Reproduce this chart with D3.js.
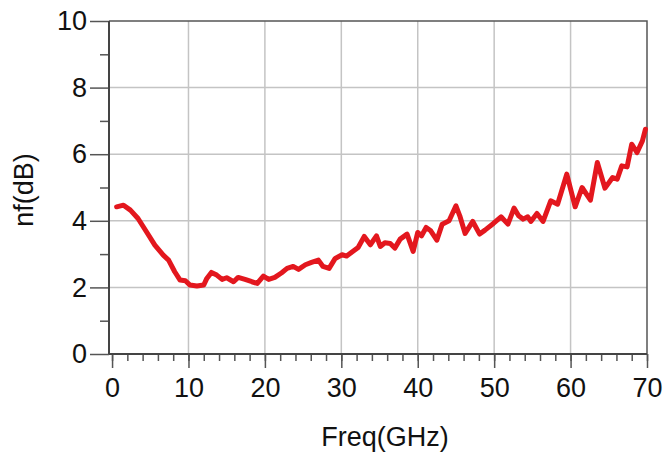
<!DOCTYPE html>
<html>
<head>
<meta charset="utf-8">
<script src="https://cdn.jsdelivr.net/npm/d3@7"></script>
<style>
  html, body { margin: 0; padding: 0; background: #fff; }
  svg { display: block; font-family: "Liberation Sans", Arial, sans-serif; }
</style>
</head>
<body>
<div id="chart"></div>
<script>
// noise figure vs frequency
const freq = [0.6, 1.5, 2.4, 3.4, 4.5, 5.6, 6.7, 7.4, 8.2, 8.9, 9.6, 10.2, 11.1, 12.0, 12.4, 13.0,
  13.7, 14.4, 15.0, 15.9, 16.5, 17.4, 18.3, 19.0, 19.8, 20.5, 21.3, 22.2, 22.9, 23.7, 24.4,
  25.3, 26.1, 27.0, 27.6, 28.4, 29.2, 30.1, 30.7, 31.4, 32.2, 33.0, 33.8, 34.6, 35.1, 35.7,
  36.4, 37.0, 37.7, 38.6, 39.4, 40.0, 40.5, 41.1, 41.7, 42.5, 43.2, 44.1, 45.0, 45.5, 46.2,
  47.2, 48.1, 48.8, 49.9, 50.9, 51.8, 52.6, 53.2, 53.8, 54.4, 54.8, 55.6, 56.4, 57.4, 58.3,
  59.5, 60.6, 61.5, 62.6, 63.5, 64.5, 65.5, 66.1, 66.7, 67.4, 68.0, 68.7, 69.4, 69.8];
const nf = [4.42, 4.47, 4.32, 4.07, 3.67, 3.27, 2.97, 2.82, 2.47, 2.22, 2.2, 2.07, 2.04, 2.07, 2.27, 2.45,
  2.37, 2.24, 2.29, 2.17, 2.3, 2.24, 2.17, 2.12, 2.34, 2.24, 2.3, 2.44, 2.57, 2.63, 2.54,
  2.68, 2.75, 2.82, 2.63, 2.57, 2.87, 2.98, 2.94, 3.06, 3.2, 3.53, 3.28, 3.55, 3.23, 3.34,
  3.32, 3.18, 3.45, 3.6, 3.08, 3.65, 3.55, 3.8, 3.7, 3.42, 3.9, 4.0, 4.45, 4.15, 3.62,
  3.98, 3.6, 3.72, 3.92, 4.12, 3.9, 4.38, 4.15, 4.05, 4.12, 3.98, 4.22, 3.98, 4.6, 4.5,
  5.4, 4.42, 5.0, 4.62, 5.75, 4.98, 5.3, 5.25, 5.65, 5.62, 6.3, 6.05, 6.4, 6.75];

const xTicks = [0, 10, 20, 30, 40, 50, 60, 70];
const yTicks = [0, 2, 4, 6, 8, 10];
const xMinor = d3.range(0, 71, 2);
const yMinor = [1, 3, 5, 7, 9];

const width = 671, height = 452;

const x = d3.scaleLinear().domain([-0.4, 70]).range([109, 647]);
const y = d3.scaleLinear().domain([0, 10]).range([354, 21]);

const svg = d3.select("#chart").append("svg")
  .attr("width", width)
  .attr("height", height);

// grid
svg.append("g")
  .selectAll("line")
  .data(yTicks.filter(d => d > 0 && d < 10))
  .join("line")
  .attr("x1", x.range()[0]).attr("x2", x(70))
  .attr("y1", d => y(d)).attr("y2", d => y(d))
  .attr("stroke", "#c4c4c4").attr("stroke-width", 1.5);

svg.append("g")
  .selectAll("line")
  .data(xTicks.filter(d => d > 0 && d < 70))
  .join("line")
  .attr("x1", d => x(d)).attr("x2", d => x(d))
  .attr("y1", y(0)).attr("y2", y(10))
  .attr("stroke", "#c4c4c4").attr("stroke-width", 1.5);

// frame (top and right)
svg.append("path")
  .attr("d", `M${x.range()[0]},${y(10)}H${x(70)}V${y(0)}`)
  .attr("fill", "none")
  .attr("stroke", "#555")
  .attr("stroke-width", 1.5);

// x axis
const xAxis = svg.append("g").attr("transform", `translate(0,${y(0)})`);
xAxis.call(d3.axisBottom(x).tickValues(xMinor).tickSize(7).tickFormat(""))
  .call(g => g.select(".domain").remove())
  .call(g => g.selectAll("line").attr("stroke", "#555").attr("stroke-width", 1.5));
xAxis.append("g")
  .call(d3.axisBottom(x).tickValues(xTicks).tickSize(14).tickPadding(10).tickFormat(d3.format("d")))
  .call(g => g.select(".domain").remove())
  .call(g => g.selectAll("line").attr("stroke", "#555").attr("stroke-width", 1.5))
  .call(g => g.selectAll("text").attr("font-size", 27).attr("fill", "#111")
    .attr("font-family", "Liberation Sans, Arial, sans-serif"));
xAxis.append("line")
  .attr("x1", x.range()[0]).attr("x2", x(70))
  .attr("stroke", "#444").attr("stroke-width", 2);

// y axis
const yAxis = svg.append("g").attr("transform", `translate(${x.range()[0]},0)`);
yAxis.call(d3.axisLeft(y).tickValues(yMinor).tickSize(9).tickFormat(""))
  .call(g => g.select(".domain").remove())
  .call(g => g.selectAll("line").attr("stroke", "#555").attr("stroke-width", 1.5));
yAxis.append("g")
  .call(d3.axisLeft(y).tickValues(yTicks).tickSize(19).tickPadding(3).tickFormat(d3.format("d")))
  .call(g => g.select(".domain").remove())
  .call(g => g.selectAll("line").attr("stroke", "#555").attr("stroke-width", 1.5))
  .call(g => g.selectAll("text").attr("font-size", 27).attr("fill", "#111")
    .attr("font-family", "Liberation Sans, Arial, sans-serif"));
yAxis.append("line")
  .attr("y1", y(0)).attr("y2", y(10))
  .attr("stroke", "#444").attr("stroke-width", 2);

// curve
const line = d3.line()
  .x(d => x(d[0]))
  .y(d => y(d[1]));

svg.append("path")
  .datum(freq.map((f, i) => [f, nf[i]]))
  .attr("fill", "none")
  .attr("stroke", "#e3171e")
  .attr("stroke-width", 5)
  .attr("stroke-linejoin", "round")
  .attr("stroke-linecap", "round")
  .attr("d", line);

// axis titles
svg.append("text")
  .attr("x", 385).attr("y", 446)
  .attr("text-anchor", "middle")
  .attr("font-size", 27)
  .attr("fill", "#111")
  .text("Freq(GHz)");

svg.append("text")
  .attr("transform", "translate(33,190) rotate(-90)")
  .attr("text-anchor", "middle")
  .attr("font-size", 27)
  .attr("fill", "#111")
  .text("nf(dB)");
</script>
</body>
</html>
